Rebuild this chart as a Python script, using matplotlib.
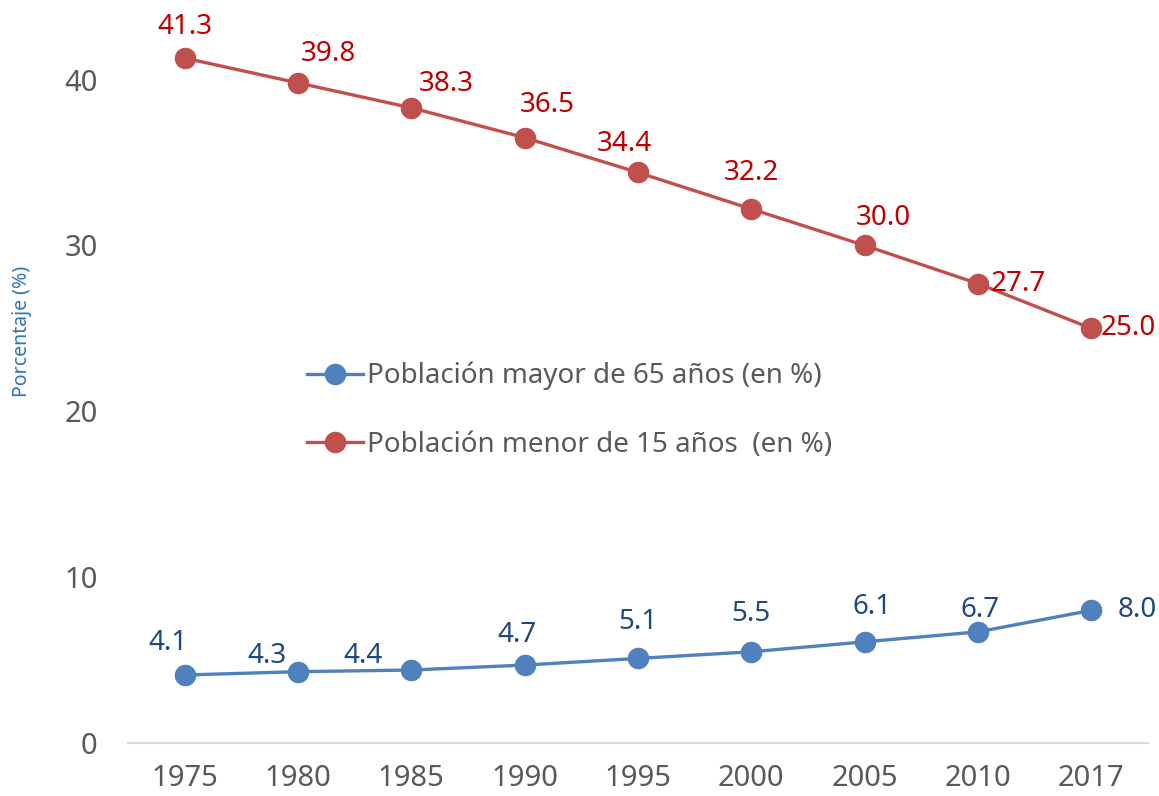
import matplotlib.pyplot as plt

years = ['1975', '1980', '1985', '1990', '1995', '2000', '2005', '2010', '2017']
mayor65 = [4.1, 4.3, 4.4, 4.7, 5.1, 5.5, 6.1, 6.7, 8.0]
menor15 = [41.3, 39.8, 38.3, 36.5, 34.4, 32.2, 30.0, 27.7, 25.0]

# desplazamientos de las etiquetas (en pixeles)
off_mayor = [(-17, 32), (-31, 16), (-48, 14), (-8, 30), (0, 36), (0, 38), (7, 35), (2, 22), (46, 0)]
off_menor = [(0, 31), (30, 29), (35, 24), (23, 33), (-14, 28), (0, 36), (19, 27), (40, 0), (37, 0)]

plt.rcParams['font.family'] = ['Noto Sans', 'DejaVu Sans']

fig = plt.figure(figsize=(11.59, 7.96), dpi=100)
ax = fig.add_axes([128 / 1159, 1 - 743 / 796, 1020 / 1159, 743 / 796])

x = range(len(years))
ax.plot(x, mayor65, color='#4F81BD', lw=2.4, marker='o', ms=14.5,
        label='Población mayor de 65 años (en %)')
ax.plot(x, menor15, color='#C0504D', lw=2.4, marker='o', ms=14.5,
        label='Población menor de 15 años  (en %)')

for i, v in enumerate(mayor65):
    ax.annotate(f'{v:.1f}', (i, v), xytext=off_mayor[i], textcoords='offset pixels',
                ha='center', va='center', fontsize=20, color='#1F497D')
for i, v in enumerate(menor15):
    ax.annotate(f'{v:.1f}', (i, v), xytext=off_menor[i], textcoords='offset pixels',
                ha='center', va='center', fontsize=20, color='#C00000')

ax.set_xlim(-0.5, len(years) - 0.5)
ax.set_ylim(0, 44.8)
ax.set_xticks(list(x))
ax.set_xticklabels(years)
ax.set_yticks([0, 10, 20, 30, 40])
ax.tick_params(axis='both', length=0, labelsize=21, colors='#595959')
ax.tick_params(axis='x', pad=15)
ax.tick_params(axis='y', pad=22)

for s in ['top', 'right', 'left']:
    ax.spines[s].set_visible(False)
ax.spines['bottom'].set_color('#D9D9D9')
ax.spines['bottom'].set_linewidth(1.5)

fig.text(22 / 1159, 1 - 331 / 796, 'Porcentaje (%)', rotation=90, ha='center', va='center',
         fontsize=14, color='#2E75B6')

ax.legend(loc='upper left', bbox_to_anchor=(282 / 1159, 1 - 337 / 796), bbox_transform=fig.transFigure,
          frameon=False, fontsize=20, labelcolor='#595959', handlelength=2.0, handletextpad=0.15,
          labelspacing=1.45)

fig.savefig('out.png', dpi=100)
